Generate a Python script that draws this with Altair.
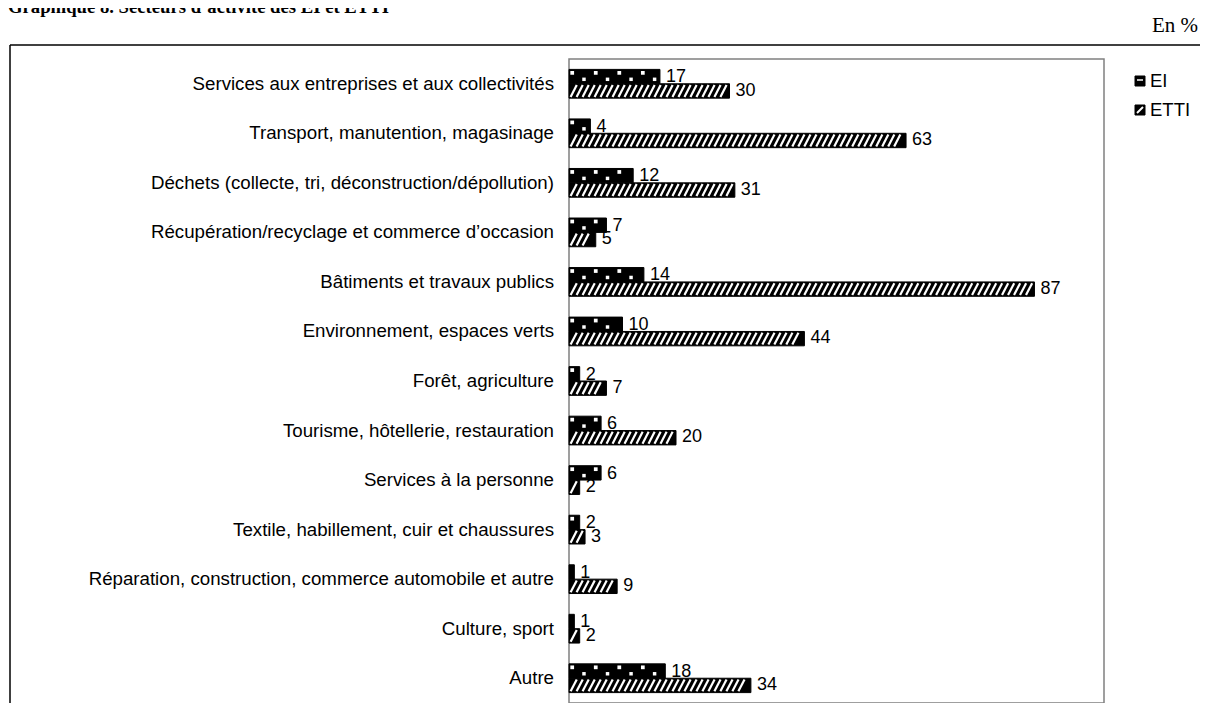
import altair as alt
import pandas as pd

# ---------------- data ----------------
categories = [
    "Services aux entreprises et aux collectivités",
    "Transport, manutention, magasinage",
    "Déchets (collecte, tri, déconstruction/dépollution)",
    "Récupération/recyclage et commerce d’occasion",
    "Bâtiments et travaux publics",
    "Environnement, espaces verts",
    "Forêt, agriculture",
    "Tourisme, hôtellerie, restauration",
    "Services à la personne",
    "Textile, habillement, cuir et chaussures",
    "Réparation, construction, commerce automobile et autre",
    "Culture, sport",
    "Autre",
]
ei_values = [17, 4, 12, 7, 14, 10, 2, 6, 6, 2, 1, 1, 18]
etti_values = [30, 63, 31, 5, 87, 44, 7, 20, 2, 3, 9, 2, 34]
series_names = ["EI", "ETTI"]
title_text = "Graphique 8. Secteurs d’activité des EI et ETTI"
unit_text = "En %"

rows = []
for i, c in enumerate(categories):
    rows.append({"idx": i, "category": c, "serie": series_names[0], "value": ei_values[i]})
    rows.append({"idx": i, "category": c, "serie": series_names[1], "value": etti_values[i]})
df = pd.DataFrame(rows)
cat_df = pd.DataFrame({"idx": list(range(len(categories))), "category": categories})
one = pd.DataFrame({"k": [0]})

FONT = "Liberation Sans"
SERIF = "Liberation Serif"
N = len(categories)

X_SCALE = alt.Scale(domain=[0, 100], nice=False, zero=True)
Y_SCALE = alt.Scale(domain=[0, N], reverse=True, nice=False, zero=False)

# ---------------- bars ----------------
bars = (
    alt.Chart(df)
    .transform_calculate(
        x0="0",
        y0="datum.idx + (datum.serie == 'EI' ? 0.21 : 0.50)",
        y1="datum.idx + (datum.serie == 'EI' ? 0.50 : 0.79)",
    )
    .mark_rect(fill="black", stroke="black", strokeWidth=1)
    .encode(
        x=alt.X("x0:Q", scale=X_SCALE, axis=None),
        x2="value:Q",
        y=alt.Y(
            "y0:Q",
            scale=Y_SCALE,
            axis=alt.Axis(
                values=list(range(N + 1)),
                labels=False,
                ticks=True,
                tickSize=5,
                tickColor="black",
                tickWidth=1,
                domainColor="black",
                domainWidth=1.5,
                grid=False,
                title=None,
            ),
        ),
        y2="y1:Q",
    )
)

# ETTI hatch: white diagonal strokes over black bar
stripes = (
    alt.Chart(df)
    .transform_filter("datum.serie == 'ETTI'")
    .transform_calculate(s="sequence(0.3, datum.value - 1.4, 1.12)")
    .transform_flatten(["s"])
    .transform_calculate(
        s2="datum.s + 1.15", yb="datum.idx + 0.765", yt="datum.idx + 0.525"
    )
    .mark_rule(color="white", strokeWidth=2.2)
    .encode(
        x=alt.X("s:Q", scale=X_SCALE, axis=None),
        x2="s2:Q",
        y=alt.Y("yb:Q", scale=Y_SCALE, axis=None),
        y2="yt:Q",
    )
)

# EI pattern: small white squares
dots_top = (
    alt.Chart(df)
    .transform_filter("datum.serie == 'EI'")
    .transform_calculate(s="sequence(0.6, datum.value - 0.6, 4.4)")
    .transform_flatten(["s"])
    .transform_calculate(yy="datum.idx + 0.28")
    .mark_square(size=14, color="white", opacity=1, filled=True)
    .encode(
        x=alt.X("s:Q", scale=X_SCALE, axis=None),
        y=alt.Y("yy:Q", scale=Y_SCALE, axis=None),
    )
)
dots_bot = (
    alt.Chart(df)
    .transform_filter("datum.serie == 'EI'")
    .transform_calculate(s="sequence(2.8, datum.value - 0.6, 4.4)")
    .transform_flatten(["s"])
    .transform_calculate(yy="datum.idx + 0.41")
    .mark_square(size=12, color="white", opacity=1, filled=True)
    .encode(
        x=alt.X("s:Q", scale=X_SCALE, axis=None),
        y=alt.Y("yy:Q", scale=Y_SCALE, axis=None),
    )
)

# value labels
value_labels = (
    alt.Chart(df)
    .transform_calculate(ym="datum.idx + (datum.serie == 'EI' ? 0.37 : 0.64)")
    .mark_text(align="left", baseline="middle", dx=6, fontSize=18, font=FONT, color="black")
    .encode(
        x=alt.X("value:Q", scale=X_SCALE, axis=None),
        y=alt.Y("ym:Q", scale=Y_SCALE, axis=None),
        text="value:Q",
    )
)

# category labels
cat_labels = (
    alt.Chart(cat_df)
    .transform_calculate(ym="datum.idx + 0.5")
    .mark_text(align="right", baseline="middle", fontSize=18.7, font=FONT, color="black")
    .encode(
        x=alt.value(-15),
        y=alt.Y("ym:Q", scale=Y_SCALE, axis=None),
        text="category:N",
    )
)

# ---------------- decorations ----------------
hline = alt.Chart(one).mark_rule(color="black", strokeWidth=1.5).encode(
    x=alt.value(-559), x2=alt.value(640), y=alt.value(-14)
)
vline = alt.Chart(one).mark_rule(color="black", strokeWidth=1.5).encode(
    x=alt.value(-559), y=alt.value(-14), y2=alt.value(700)
)
title_mark = alt.Chart(one).mark_text(
    text=title_text, align="left", baseline="alphabetic",
    font=SERIF, fontWeight="bold", fontSize=18.7, color="black"
).encode(x=alt.value(-561), y=alt.value(-46))
unit_mark = alt.Chart(one).mark_text(
    text=unit_text, align="right", baseline="alphabetic",
    font=SERIF, fontSize=21, color="black"
).encode(x=alt.value(629), y=alt.value(-27))

# legend
leg_ei_box = alt.Chart(one).mark_rect(fill="black", stroke="black", strokeWidth=1).encode(
    x=alt.value(566), x2=alt.value(576), y=alt.value(17), y2=alt.value(27)
)
leg_ei_in = alt.Chart(one).mark_rule(color="white", strokeWidth=1.5).encode(
    x=alt.value(568), x2=alt.value(574), y=alt.value(21)
)
leg_etti_box = alt.Chart(one).mark_rect(fill="black", stroke="black", strokeWidth=1).encode(
    x=alt.value(566), x2=alt.value(576), y=alt.value(46), y2=alt.value(56)
)
leg_etti_in = alt.Chart(one).mark_rule(color="white", strokeWidth=2).encode(
    x=alt.value(568), x2=alt.value(574), y=alt.value(54), y2=alt.value(48)
)
leg_ei_txt = alt.Chart(one).mark_text(
    text=series_names[0], align="left", baseline="middle", font=FONT, fontSize=18.5, color="black"
).encode(x=alt.value(581), y=alt.value(22))
leg_etti_txt = alt.Chart(one).mark_text(
    text=series_names[1], align="left", baseline="middle", font=FONT, fontSize=18.5, color="black"
).encode(x=alt.value(581), y=alt.value(51))

chart = (
    alt.layer(
        bars, stripes, dots_top, dots_bot, value_labels, cat_labels,
        hline, vline, title_mark, unit_mark,
        leg_ei_box, leg_ei_in, leg_etti_box, leg_etti_in, leg_ei_txt, leg_etti_txt,
    )
    .properties(
        width=535,
        height=644,
        padding={"left": 561, "top": 51, "right": 96, "bottom": 0},
        autosize=alt.AutoSizeParams(type="none"),
        background="white",
    )
    .configure_view(stroke="#808080", strokeWidth=1.5)
)

chart.save("out.html", embed_options={"renderer": "svg", "actions": False})
